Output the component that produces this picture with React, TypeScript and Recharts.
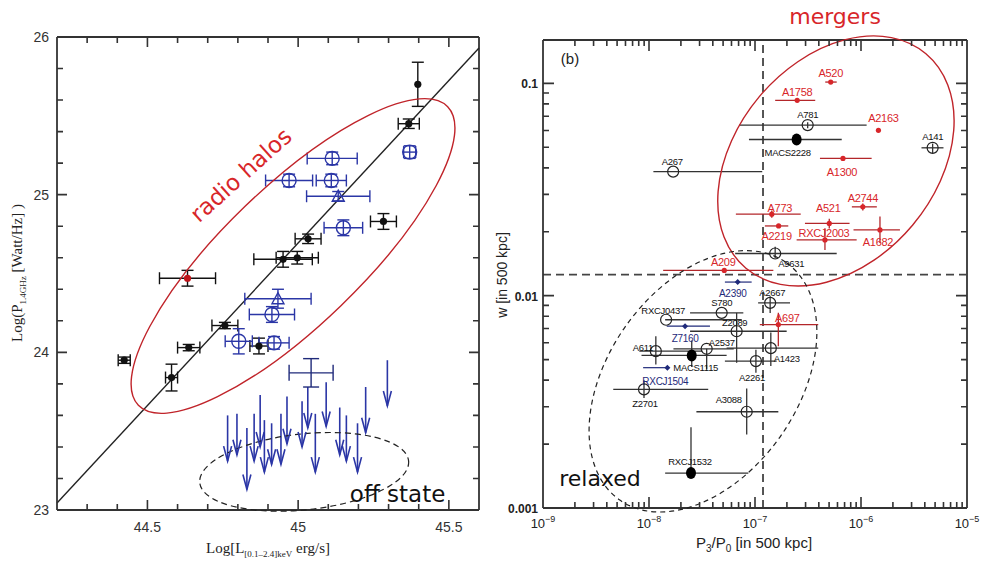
import React from 'react';
import {
  ScatterChart,
  Scatter,
  XAxis,
  YAxis,
  ErrorBar,
  ReferenceLine,
  ReferenceDot,
} from 'recharts';

// ---------- left panel: radio halo power vs X-ray luminosity ----------
// black points (detected halos)
const haloLx = [45.397, 45.367, 45.283, 45.033, 44.95, 44.997, 44.757, 44.637, 44.423, 44.58, 44.87];
const haloP = [25.7, 25.45, 24.83, 24.72, 24.59, 24.6, 24.17, 24.03, 23.95, 23.84, 24.04];
const haloLxErr = [0, 0.035, 0.043, 0.043, 0.097, 0.07, 0.043, 0.037, 0.02, 0.02, 0.03];
const haloPErr = [0.14, 0.03, 0.05, 0.03, 0.05, 0.04, 0.02, 0.02, 0.02, 0.085, 0.05];

// the one red-dot halo
const redHaloLx = [44.633];
const redHaloP = [24.47];
const redHaloLxErr = [0.093];
const redHaloPErr = [0.05];

// blue open circles
const blueLx = [45.113, 44.97, 45.11, 45.15, 45.37, 44.913, 44.803, 44.92];
const blueP = [25.23, 25.09, 25.09, 24.79, 25.27, 24.24, 24.07, 24.06];
const blueLxErr = [0.083, 0.078, 0.05, 0.064, 0.02, 0.075, 0.045, 0.05];
const bluePErr = [0.04, 0.04, 0.04, 0.05, 0.04, 0.05, 0.08, 0.04];

// blue open triangles
const triLx = [45.133, 44.933];
const triP = [24.99, 24.34];
const triLxErr = [0.105, 0.11];
const triPErr = [0.03, 0.06];

// blue cross (no marker)
const crossLx = [45.043];
const crossP = [23.87];
const crossLxErr = [0.073];
const crossPErr = [0.09];

// upper limits (arrows): top = limit, tip = arrow end
const limLx = [44.766, 44.797, 44.83, 44.854, 44.874, 44.888, 44.912, 44.943, 44.963, 45.013, 45.032, 45.057, 45.093, 45.138, 45.16, 45.197, 45.224, 45.296];
const limTop = [23.6, 23.61, 23.52, 23.61, 23.73, 23.57, 23.55, 23.61, 23.72, 23.69, 23.78, 23.61, 23.81, 23.65, 23.6, 23.55, 23.78, 23.95];
const limTip = [23.31, 23.35, 23.13, 23.31, 23.4, 23.24, 23.29, 23.29, 23.42, 23.4, 23.52, 23.24, 23.53, 23.35, 23.31, 23.24, 23.49, 23.66];

// correlation line ends
const fitX = [44.2, 45.6];
const fitY = [23.045, 25.93];

const lxDomain = [44.2, 45.6];
const lyDomain = [23, 26];
const lxTicks = [44.3, 44.4, 44.5, 44.6, 44.7, 44.8, 44.9, 45, 45.1, 45.2, 45.3, 45.4, 45.5];
const lxMajor = [44.5, 45, 45.5];
const lyTicks = [23.2, 23.4, 23.6, 23.8, 24, 24.2, 24.4, 24.6, 24.8, 25, 25.2, 25.4, 25.6, 25.8];
const lyMajor = [23, 24, 25, 26];

// ---------- right panel: w vs P3/P0 ----------
const redNames = ['A520', 'A1758', 'A2163', 'A1300', 'A2744', 'A773', 'A521', 'A2219', 'A1682', 'RXCJ2003', 'A209', 'A697'];
const redP3 = [5.18e-7, 2.5e-7, 1.46e-6, 6.76e-7, 1.04e-6, 1.44e-7, 5.02e-7, 1.67e-7, 1.51e-6, 4.57e-7, 5.13e-8, 1.66e-7];
const redW = [0.1014, 0.0832, 0.0601, 0.0443, 0.0262, 0.0242, 0.0219, 0.0213, 0.0204, 0.0183, 0.01315, 0.00731];
const redP3Lo = [4.6e-7, 1.55e-7, 1.46e-6, 4.1e-7, 8.2e-7, 6.6e-8, 2.96e-7, 1.24e-7, 8.5e-7, 2.47e-7, 1.36e-8, 1.11e-7];
const redP3Hi = [5.9e-7, 3.7e-7, 1.46e-6, 1.26e-6, 1.41e-6, 2.7e-7, 7.8e-7, 2.06e-7, 2.33e-6, 9.1e-7, 1.49e-7, 3.95e-7];
const redWLo = [0.1014, 0.0832, 0.0601, 0.0443, 0.0252, 0.0233, 0.0207, 0.0213, 0.0177, 0.0164, 0.01315, 0.00578];
const redWHi = [0.1014, 0.0832, 0.0601, 0.0443, 0.0272, 0.0252, 0.023, 0.0213, 0.0236, 0.0208, 0.01315, 0.0083];

const openNames = ['A781', 'A141', 'A267', 'A9631', 'A2667', 'S780', 'RXCJ0437', 'Z2089', 'A611', 'A2537', 'A1423', 'A2261', 'Z2701', 'A3088'];
const openP3 = [3.14e-7, 4.74e-6, 1.69e-8, 1.55e-7, 1.39e-7, 4.85e-8, 1.45e-8, 6.71e-8, 1.16e-8, 3.5e-8, 1.41e-7, 1.02e-7, 8.97e-9, 8.35e-8];
const openW = [0.0636, 0.0497, 0.0384, 0.0158, 0.00925, 0.0083, 0.0077, 0.0068, 0.00548, 0.00562, 0.00566, 0.00492, 0.00362, 0.00284];
const openP3Lo = [7.06e-8, 3.72e-6, 1.1e-8, 6.5e-8, 1.07e-7, 2.44e-8, 1.42e-8, 2.44e-8, 8.1e-9, 1.7e-8, 5.4e-8, 5.2e-8, 4.6e-9, 2.8e-8];
const openP3Hi = [1.13e-6, 6.0e-6, 1.17e-7, 5.9e-7, 2.14e-7, 7.76e-8, 7.5e-8, 1.99e-7, 3.2e-8, 6.3e-8, 3.95e-7, 1.6e-7, 3.62e-8, 1.66e-7];
const openWLo = [0.0615, 0.047, 0.0384, 0.015, 0.00829, 0.0083, 0.0077, 0.00483, 0.00474, 0.0045, 0.00466, 0.00434, 0.0033, 0.00222];
const openWHi = [0.0655, 0.052, 0.0384, 0.017, 0.00993, 0.0083, 0.0077, 0.0083, 0.00644, 0.00562, 0.0067, 0.00557, 0.004, 0.00365];

const fillNames = ['MACS2228', 'MACS1115', 'RXCJ1532'];
const fillP3 = [2.47e-7, 2.53e-8, 2.49e-8];
const fillW = [0.0544, 0.00523, 0.00146];
const fillP3Lo = [8.77e-8, 8.5e-9, 1.42e-8];
const fillP3Hi = [6.58e-7, 5.4e-8, 8.65e-8];
const fillWLo = [0.0544, 0.00461, 0.00146];
const fillWHi = [0.0544, 0.00615, 0.0024];

const blueNames = ['A2390', 'Z7160', 'RXCJ1504'];
const blueP3 = [6.87e-8, 2.19e-8, 1.49e-8];
const blueW = [0.01159, 0.00718, 0.00458];
const blueP3Lo = [5.2e-8, 1.47e-8, 8.8e-9];
const blueP3Hi = [9.3e-8, 3.76e-8, 1.49e-8];

const p3Split = 1.19e-7;
const wSplit = 0.01256;

const rxDomain = [1e-9, 1e-5];
const ryDomain = [0.001, 0.16];
const decades = [-9, -8, -7, -6, -5];
const wDecades = [-3, -2, -1];

// label offsets (px) relative to each cluster point
const labelPos: Record<string, [number, number]> = {
  A520: [0, -9], A1758: [0, -8], A2163: [5, -12], A1300: [-1, 14], A2744: [0, -9], A773: [8, -6],
  A521: [-1, -15], A2219: [-2, 10], A1682: [-2, 12], RXCJ2003: [-1, -7], A209: [-1, -8], A697: [9, -7],
  A781: [0, -11], A141: [0, -11], A267: [-1, -10], A9631: [16, 10], A2667: [2, -10], S780: [0, -10],
  RXCJ0437: [-3, -9], Z2089: [-2, -9], A611: [-13, -4], A2537: [15, -6], A1423: [16, 10], A2261: [-4, 16],
  Z2701: [1, 14], A3088: [-18, -12], MACS2228: [-9, 13], MACS1115: [4, 12], RXCJ1532: [-1, -12],
  A2390: [-5, 11], Z7160: [0, 12], RXCJ1504: [-2, 14],
};

const FRAME = '#333';
const BLUE = '#2b36a6';
const NAVY = '#1f2a7a';
const RED = '#d8262a';
const DARKRED = '#b3262a';

// plot boxes of the two panels (page px), matching the chart margins below
const L_BOX = { x: 57, y: 37, w: 422, h: 473 };
const R_BOX = { x: 543, y: 40, w: 424, h: 468 };

const pts = (x: number[], y: number[], ex: number[], ey: number[]) =>
  x.map((v, i) => ({ x: v, y: y[i], ex: ex[i], ey: ey[i] }));

const logPts = (names: string[], x: number[], w: number[], xlo: number[], xhi: number[], wlo?: number[], whi?: number[]) =>
  names.map((name, i) => ({
    name,
    x: x[i],
    y: w[i],
    ex: [x[i] - xlo[i], xhi[i] - x[i]],
    ey: [wlo ? w[i] - wlo[i] : 0, whi ? whi[i] - w[i] : 0],
  }));

const haloData = pts(haloLx, haloP, haloLxErr, haloPErr);
const redHaloData = pts(redHaloLx, redHaloP, redHaloLxErr, redHaloPErr);
const blueData = pts(blueLx, blueP, blueLxErr, bluePErr);
const triData = pts(triLx, triP, triLxErr, triPErr);
const crossData = pts(crossLx, crossP, crossLxErr, crossPErr);
const limData = limLx.map((x, i) => ({ x, y: limTip[i], ey: [0, limTop[i] - limTip[i]] }));

const redData = logPts(redNames, redP3, redW, redP3Lo, redP3Hi, redWLo, redWHi);
const openData = logPts(openNames, openP3, openW, openP3Lo, openP3Hi, openWLo, openWHi);
const fillData = logPts(fillNames, fillP3, fillW, fillP3Lo, fillP3Hi, fillWLo, fillWHi);
const blueClData = logPts(blueNames, blueP3, blueW, blueP3Lo, blueP3Hi);

const p3Ticks = decades.flatMap((d) => (d === -5 ? [1e-5] : [1, 2, 3, 4, 5, 6, 7, 8, 9].map((m) => m * Math.pow(10, d))));
const wTicks = wDecades.flatMap((d) => (d === -1 ? [0.1] : [1, 2, 3, 4, 5, 6, 7, 8, 9].map((m) => m * Math.pow(10, d))));
const p3Inner = p3Ticks.filter((v) => v > rxDomain[0] * 1.01 && v < rxDomain[1] * 0.99);
const wInner = wTicks.filter((v) => v > ryDomain[0] * 1.01);

const isDecade = (v: number) => Math.abs(Math.log10(v) - Math.round(Math.log10(v))) < 1e-6;

// axis position helpers for the frame tick marks
const lxPix = (v: number) => L_BOX.x + ((v - lxDomain[0]) / (lxDomain[1] - lxDomain[0])) * L_BOX.w;
const lyPix = (v: number) => L_BOX.y + ((lyDomain[1] - v) / (lyDomain[1] - lyDomain[0])) * L_BOX.h;
const rxPix = (v: number) =>
  R_BOX.x + ((Math.log10(v) - Math.log10(rxDomain[0])) / (Math.log10(rxDomain[1]) - Math.log10(rxDomain[0]))) * R_BOX.w;
const ryPix = (v: number) =>
  R_BOX.y + ((Math.log10(ryDomain[1]) - Math.log10(v)) / (Math.log10(ryDomain[1]) - Math.log10(ryDomain[0]))) * R_BOX.h;

// ---------- tick labels ----------
function LeftXLabel(p: any) {
  const v = p.payload.value as number;
  return (
    <text x={p.x} y={p.y + 22} textAnchor="middle" fontSize={14} fontFamily="Liberation Sans" fill="#333">
      {v}
    </text>
  );
}

function LeftYLabel(p: any) {
  const v = p.payload.value as number;
  return (
    <text x={p.x - 8} y={p.y + 5} textAnchor="end" fontSize={14} fontFamily="Liberation Sans" fill="#333">
      {v}
    </text>
  );
}

function RightXLabel(p: any) {
  const v = p.payload.value as number;
  const e = Math.round(Math.log10(v));
  return (
    <text x={p.x} y={p.y + 20} textAnchor="middle" fontSize={13} fontFamily="Liberation Sans" fill="#222">
      10
      <tspan dy={-6} fontSize={9}>{`−${Math.abs(e)}`}</tspan>
    </text>
  );
}

function RightYLabel(p: any) {
  const v = p.payload.value as number;
  return (
    <text x={p.x - 5} y={p.y + 5} textAnchor="end" fontSize={12} fontWeight="bold" fontFamily="Liberation Sans" fill="#222">
      {String(v)}
    </text>
  );
}

// ---------- marker shapes ----------
const filledDot = (p: any) => <circle cx={p.cx} cy={p.cy} r={3.6} fill="#111" />;
const redDot = (p: any) => <circle cx={p.cx} cy={p.cy} r={3.6} fill="#c0141a" />;
const openCircle = (p: any) => <circle cx={p.cx} cy={p.cy} r={7} fill="none" stroke={BLUE} strokeWidth={1.4} />;
const openTri = (p: any) => (
  <path d={`M${p.cx - 6},${p.cy + 5} L${p.cx},${p.cy - 6} L${p.cx + 6},${p.cy + 5} Z`} fill="none" stroke={BLUE} strokeWidth={1.4} />
);
const noMark = () => <g />;
const arrowHead = (p: any) => (
  <path d={`M${p.cx - 4},${p.cy - 15} L${p.cx},${p.cy} L${p.cx + 4},${p.cy - 15}`} fill="none" stroke={BLUE} strokeWidth={1.6} />
);

const labeled = (marker: (cx: number, cy: number) => React.ReactNode, color: string, size: number) => (p: any) => {
  const [dx, dy] = labelPos[p.payload.name] ?? [0, -10];
  return (
    <g>
      {marker(p.cx, p.cy)}
      <text
        x={p.cx + dx}
        y={p.cy + dy}
        dominantBaseline="central"
        textAnchor="middle"
        fill={color}
        fontSize={size}
        fontFamily="Liberation Sans"
        letterSpacing={-0.3}
      >
        {p.payload.name}
      </text>
    </g>
  );
};

const redShape = labeled((cx, cy) => <circle cx={cx} cy={cy} r={2.6} fill={RED} />, RED, 11);
const openShape = labeled(
  (cx, cy) => <circle cx={cx} cy={cy} r={5.5} fill="none" stroke="#222" strokeWidth={1.2} />,
  '#111',
  9.5,
);
const fillShape = labeled((cx, cy) => <ellipse cx={cx} cy={cy} rx={5} ry={6} fill="#000" />, '#111', 9.5);
const blueShape = labeled(
  (cx, cy) => <path d={`M${cx - 3},${cy} L${cx},${cy - 3} L${cx + 3},${cy} L${cx},${cy + 3} Z`} fill={NAVY} />,
  NAVY,
  10,
);

const handFont = '"DejaVu Sans", sans-serif';

function HaloPanel() {
  return (
    <ScatterChart width={490} height={562} margin={{ top: 37, right: 11, bottom: 0, left: 0 }}>
      <XAxis
        type="number"
        dataKey="x"
        domain={lxDomain}
        ticks={lxMajor}
        interval={0}
        tickSize={0}
        tickMargin={0}
        tickLine={false}
        axisLine={{ stroke: FRAME, strokeWidth: 1.8 }}
        tick={LeftXLabel}
        height={52}
        allowDataOverflow
      />
      <YAxis
        type="number"
        dataKey="y"
        domain={lyDomain}
        ticks={lyMajor}
        interval={0}
        tickSize={0}
        tickMargin={0}
        tickLine={false}
        axisLine={{ stroke: FRAME, strokeWidth: 1.8 }}
        tick={LeftYLabel}
        width={57}
        allowDataOverflow
      />
      <ReferenceLine y={lyDomain[1]} stroke={FRAME} strokeWidth={1.8} />
      <ReferenceLine x={lxDomain[1]} stroke={FRAME} strokeWidth={1.8} />
      <ReferenceLine
        segment={[
          { x: fitX[0], y: fitY[0] },
          { x: fitX[1], y: fitY[1] },
        ]}
        stroke="#222"
        strokeWidth={1.4}
      />
      <ReferenceDot
        x={44.983}
        y={24.611}
        shape={(p: any) => (
          <ellipse cx={p.cx} cy={p.cy} rx={215} ry={69} fill="none" stroke="#c0242a" strokeWidth={1.4} transform={`rotate(-44 ${p.cx} ${p.cy})`} />
        )}
      />
      <ReferenceDot
        x={45.02}
        y={23.242}
        shape={(p: any) => (
          <ellipse cx={p.cx} cy={p.cy} rx={105} ry={38} fill="none" stroke="#222" strokeWidth={1.2} strokeDasharray="6 4" transform={`rotate(-6 ${p.cx} ${p.cy})`} />
        )}
      />
      <ReferenceDot
        x={44.81}
        y={25.125}
        shape={(p: any) => (
          <text x={p.cx} y={p.cy} textAnchor="middle" dominantBaseline="central" fill={RED} fontSize={23} fontFamily={handFont} transform={`rotate(-42 ${p.cx} ${p.cy})`}>
            radio halos
          </text>
        )}
      />
      <ReferenceDot
        x={45.33}
        y={23.1}
        shape={(p: any) => (
          <text x={p.cx} y={p.cy} textAnchor="middle" dominantBaseline="central" fill="#111" fontSize={23} fontFamily={handFont}>
            off state
          </text>
        )}
      />

      <Scatter data={limData} shape={arrowHead} isAnimationActive={false}>
        <ErrorBar dataKey="ey" direction="y" width={0} stroke={BLUE} strokeWidth={1.6} isAnimationActive={false} />
      </Scatter>
      <Scatter data={haloData} shape={filledDot} isAnimationActive={false}>
        <ErrorBar dataKey="ex" direction="x" width={6} stroke="#111" strokeWidth={1.4} isAnimationActive={false} />
        <ErrorBar dataKey="ey" direction="y" width={6} stroke="#111" strokeWidth={1.4} isAnimationActive={false} />
      </Scatter>
      <Scatter data={redHaloData} shape={redDot} isAnimationActive={false}>
        <ErrorBar dataKey="ex" direction="x" width={6} stroke="#111" strokeWidth={1.4} isAnimationActive={false} />
        <ErrorBar dataKey="ey" direction="y" width={6} stroke="#111" strokeWidth={1.4} isAnimationActive={false} />
      </Scatter>
      <Scatter data={blueData} shape={openCircle} isAnimationActive={false}>
        <ErrorBar dataKey="ex" direction="x" width={6} stroke={BLUE} strokeWidth={1.4} isAnimationActive={false} />
        <ErrorBar dataKey="ey" direction="y" width={6} stroke={BLUE} strokeWidth={1.4} isAnimationActive={false} />
      </Scatter>
      <Scatter data={triData} shape={openTri} isAnimationActive={false}>
        <ErrorBar dataKey="ex" direction="x" width={6} stroke={BLUE} strokeWidth={1.4} isAnimationActive={false} />
        <ErrorBar dataKey="ey" direction="y" width={6} stroke={BLUE} strokeWidth={1.4} isAnimationActive={false} />
      </Scatter>
      <Scatter data={crossData} shape={noMark} isAnimationActive={false}>
        <ErrorBar dataKey="ex" direction="x" width={8} stroke={NAVY} strokeWidth={1.4} isAnimationActive={false} />
        <ErrorBar dataKey="ey" direction="y" width={8} stroke={NAVY} strokeWidth={1.4} isAnimationActive={false} />
      </Scatter>
    </ScatterChart>
  );
}

function MorphPanel() {
  return (
    <ScatterChart width={492} height={562} margin={{ top: 40, right: 15, bottom: 0, left: 0 }}>
      <XAxis
        type="number"
        dataKey="x"
        scale="log"
        domain={rxDomain}
        ticks={p3Ticks.filter(isDecade)}
        interval={0}
        tickSize={0}
        tickMargin={0}
        tickLine={false}
        axisLine={{ stroke: FRAME, strokeWidth: 1.8 }}
        tick={RightXLabel}
        height={54}
        allowDataOverflow
      />
      <YAxis
        type="number"
        dataKey="y"
        scale="log"
        domain={ryDomain}
        ticks={wTicks.filter(isDecade)}
        interval={0}
        tickSize={0}
        tickMargin={0}
        tickLine={false}
        axisLine={{ stroke: FRAME, strokeWidth: 1.8 }}
        tick={RightYLabel}
        width={53}
        allowDataOverflow
      />
      <ReferenceLine y={ryDomain[1]} stroke={FRAME} strokeWidth={1.8} />
      <ReferenceLine x={rxDomain[1]} stroke={FRAME} strokeWidth={1.8} />
      <ReferenceLine x={p3Split} stroke="#444" strokeWidth={1.8} strokeDasharray="8 5" />
      <ReferenceLine y={wSplit} stroke="#444" strokeWidth={1.8} strokeDasharray="8 5" />
      <ReferenceDot
        x={5.8e-7}
        y={0.0431}
        shape={(p: any) => (
          <ellipse cx={p.cx} cy={p.cy} rx={140} ry={100} fill="none" stroke="#c0242a" strokeWidth={1.4} transform={`rotate(-50 ${p.cx} ${p.cy})`} />
        )}
      />
      <ReferenceDot
        x={3.23e-8}
        y={0.00395}
        shape={(p: any) => (
          <ellipse cx={p.cx} cy={p.cy} rx={145} ry={95} fill="none" stroke="#222" strokeWidth={1.2} strokeDasharray="5 4" transform={`rotate(-55 ${p.cx} ${p.cy})`} />
        )}
      />
      <ReferenceDot
        x={5.69e-7}
        y={0.2066}
        ifOverflow="visible"
        shape={(p: any) => (
          <text x={p.cx} y={p.cy} textAnchor="middle" dominantBaseline="central" fill={RED} fontSize={22} fontFamily={handFont}>
            mergers
          </text>
        )}
      />
      <ReferenceDot
        x={3.45e-9}
        y={0.00138}
        shape={(p: any) => (
          <text x={p.cx} y={p.cy} textAnchor="middle" dominantBaseline="central" fill="#111" fontSize={22} fontFamily={handFont}>
            relaxed
          </text>
        )}
      />

      <Scatter data={openData} shape={openShape} isAnimationActive={false}>
        <ErrorBar dataKey="ex" direction="x" width={0} stroke="#333" strokeWidth={1.3} isAnimationActive={false} />
        <ErrorBar dataKey="ey" direction="y" width={0} stroke="#333" strokeWidth={1.3} isAnimationActive={false} />
      </Scatter>
      <Scatter data={fillData} shape={fillShape} isAnimationActive={false}>
        <ErrorBar dataKey="ex" direction="x" width={0} stroke="#333" strokeWidth={1.3} isAnimationActive={false} />
        <ErrorBar dataKey="ey" direction="y" width={0} stroke="#333" strokeWidth={1.3} isAnimationActive={false} />
      </Scatter>
      <Scatter data={blueClData} shape={blueShape} isAnimationActive={false}>
        <ErrorBar dataKey="ex" direction="x" width={0} stroke={NAVY} strokeWidth={1.2} isAnimationActive={false} />
      </Scatter>
      <Scatter data={redData} shape={redShape} isAnimationActive={false}>
        <ErrorBar dataKey="ex" direction="x" width={0} stroke={DARKRED} strokeWidth={1.3} isAnimationActive={false} />
        <ErrorBar dataKey="ey" direction="y" width={0} stroke={DARKRED} strokeWidth={1.3} isAnimationActive={false} />
      </Scatter>
    </ScatterChart>
  );
}

// inward frame ticks on all four sides of both panels
function FrameTicks() {
  const segs: string[] = [];
  lxTicks.forEach((v) => {
    const len = lxMajor.includes(v) ? 10 : 6;
    const x = lxPix(v);
    segs.push(`M${x},${L_BOX.y + L_BOX.h} l0,${-len}`, `M${x},${L_BOX.y} l0,${len}`);
  });
  lyTicks.forEach((v) => {
    const len = lyMajor.includes(v) ? 10 : 6;
    const y = lyPix(v);
    segs.push(`M${L_BOX.x},${y} l${len},0`, `M${L_BOX.x + L_BOX.w},${y} l${-len},0`);
  });
  p3Inner.forEach((v) => {
    const len = isDecade(v) ? 11 : 6;
    const x = rxPix(v);
    segs.push(`M${x},${R_BOX.y + R_BOX.h} l0,${-len}`, `M${x},${R_BOX.y} l0,${len}`);
  });
  wInner.forEach((v) => {
    const len = isDecade(v) ? 11 : 6;
    const y = ryPix(v);
    segs.push(`M${R_BOX.x},${y} l${len},0`, `M${R_BOX.x + R_BOX.w},${y} l${-len},0`);
  });
  return <path d={segs.join(' ')} stroke={FRAME} strokeWidth={1.6} fill="none" />;
}

export default function App() {
  const serif = '"Liberation Serif", serif';
  const sans = '"Liberation Sans", sans-serif';
  return (
    <div style={{ position: 'absolute', left: 0, top: 0, width: 982, height: 562, background: '#fff', overflow: 'hidden' }}>
      <div style={{ position: 'absolute', left: 0, top: 0 }}>
        <HaloPanel />
      </div>
      <div style={{ position: 'absolute', left: 490, top: 0 }}>
        <MorphPanel />
      </div>
      <svg width={982} height={562} style={{ position: 'absolute', left: 0, top: 0, pointerEvents: 'none' }}>
        <FrameTicks />
        <text x={268} y={553} textAnchor="middle" fontSize={15} fontFamily={serif} fill="#222">
          Log[L<tspan dy={4} fontSize={9}>[0.1–2.4]keV</tspan>
          <tspan dy={-4}> erg/s]</tspan>
        </text>
        <text x={22} y={273} textAnchor="middle" fontSize={15} fontFamily={serif} fill="#222" transform="rotate(-90 22 273)">
          Log(P<tspan dy={4} fontSize={9}>1.4GHz</tspan>
          <tspan dy={-4}> [Watt/Hz] )</tspan>
        </text>
        <text x={754} y={548} textAnchor="middle" fontSize={15} fontFamily={sans} fill="#222">
          P<tspan dy={4} fontSize={10}>3</tspan>
          <tspan dy={-4}>/P</tspan>
          <tspan dy={4} fontSize={10}>0</tspan>
          <tspan dy={-4}> [in 500 kpc]</tspan>
        </text>
        <text x={507} y={275} textAnchor="middle" fontSize={14} fontFamily={sans} fill="#222" transform="rotate(-90 507 275)">
          w [in 500 kpc]
        </text>
        <text x={570} y={64} textAnchor="middle" fontSize={15} fontFamily={sans} fill="#222">
          (b)
        </text>
      </svg>
    </div>
  );
}
